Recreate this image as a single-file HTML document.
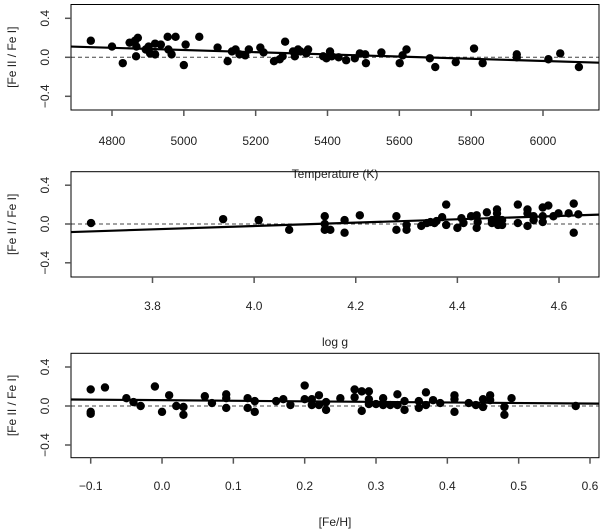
<!DOCTYPE html>
<html><head><meta charset="utf-8"><style>
body{margin:0;background:#fff;}
svg{display:block;font-family:"Liberation Sans",Arial,sans-serif;}
</style></head><body>
<svg id="c" width="600" height="532" xmlns="http://www.w3.org/2000/svg"></svg>
<script>
// Panel 1: Temperature
const tempX=[4741,4800,4830,4849,4864,4868,4872,4867,4894,4902,4906,4920,4920,4936,4955,4957,4966,4977,5005,5000,5043,5094,5122,5134,5144,5155,5171,5181,5213,5222,5251,5267,5275,5282,5304,5309,5318,5325,5341,5346,5388,5397,5407,5412,5431,5452,5476,5490,5505,5507,5550,5601,5609,5620,5685,5700,5757,5808,5832,5927,5927,6015,6048,6100];
const tempY=[0.17,0.11,-0.06,0.15,0.17,0.11,0.20,0.01,0.08,0.11,0.04,0.14,0.03,0.13,0.21,0.08,0.03,0.21,0.13,-0.08,0.21,0.10,-0.04,0.06,0.08,0.03,0.02,0.08,0.10,0.05,-0.04,-0.02,0.01,0.16,0.06,0.01,0.08,0.06,0.04,0.08,0.01,-0.01,0.06,0.01,0.00,-0.03,-0.01,0.04,0.03,-0.06,0.05,-0.06,0.02,0.08,-0.01,-0.10,-0.05,0.09,-0.06,0.03,0.00,-0.02,0.04,-0.10];
const tempFit=[0.11,-0.055]; // fit values at x-range ends
const tempTicks=[4800,5000,5200,5400,5600,5800,6000];
// Panel 2: log g
const loggX=[3.679,3.939,4.009,4.069,4.139,4.139,4.139,4.150,4.178,4.178,4.208,4.28,4.28,4.30,4.30,4.329,4.34,4.347,4.355,4.359,4.37,4.378,4.378,4.40,4.408,4.412,4.427,4.438,4.438,4.44,4.458,4.468,4.468,4.478,4.478,4.478,4.478,4.48,4.488,4.488,4.519,4.519,4.538,4.538,4.538,4.55,4.55,4.568,4.568,4.568,4.579,4.589,4.599,4.619,4.629,4.629,4.638];
const loggY=[0.01,0.05,0.04,-0.06,0.08,0.0,-0.06,-0.06,0.04,-0.09,0.09,0.08,-0.06,-0.01,-0.06,-0.02,0.01,0.02,0.01,0.03,0.07,0.20,-0.01,-0.04,0.06,0.01,0.08,0.09,-0.04,0.02,0.12,0.04,0.01,0.15,0.11,0.06,0.01,-0.01,0.04,-0.01,0.20,0.01,0.15,0.11,-0.02,0.08,0.04,0.17,0.08,0.02,0.19,0.08,0.11,0.11,0.21,-0.09,0.10];
const loggFit=[-0.083,0.097];
const loggTicks=["3.8","4.0","4.2","4.4","4.6"];
// Panel 3: [Fe/H]
const fehX=[-0.1,-0.1,-0.1,-0.08,-0.05,-0.04,-0.03,-0.01,0.0,0.01,0.02,0.03,0.03,0.06,0.07,0.09,0.09,0.09,0.12,0.12,0.13,0.13,0.16,0.17,0.18,0.20,0.20,0.21,0.21,0.22,0.22,0.23,0.23,0.25,0.27,0.27,0.28,0.28,0.29,0.29,0.29,0.30,0.31,0.31,0.32,0.33,0.33,0.34,0.34,0.36,0.36,0.37,0.37,0.38,0.39,0.41,0.41,0.41,0.43,0.44,0.45,0.45,0.46,0.46,0.48,0.48,0.49,0.58];
const fehY=[0.17,-0.06,-0.08,0.19,0.08,0.04,0.0,0.20,-0.06,0.11,0.0,-0.01,-0.09,0.10,0.03,0.12,0.08,-0.02,0.08,-0.02,0.05,-0.06,0.05,0.07,0.01,0.21,0.07,0.07,0.01,0.11,0.01,0.04,-0.04,0.08,0.17,0.09,0.15,-0.05,0.15,0.07,0.02,0.02,0.08,0.01,0.01,0.12,0.01,0.05,-0.04,0.05,-0.02,0.14,0.01,0.06,0.03,0.11,0.07,-0.06,0.03,0.01,0.07,-0.01,0.11,0.06,-0.01,-0.09,0.08,0.0];
const fehFit=[0.067,0.024];
const fehTicks=["−0.1","0.0","0.1","0.2","0.3","0.4","0.5","0.6"];
const yTicks=["−0.4","0.0","0.4"];
const yTickVals=[-0.4,0,0.4];

const NS="http://www.w3.org/2000/svg";
const svg=document.getElementById('c');
function mk(tag,attrs,parent){const e=document.createElementNS(NS,tag);for(const k in attrs)e.setAttribute(k,attrs[k]);(parent||svg).appendChild(e);return e;}

const L=71,R=599;
const panels=[
 {name:'temperature',top:4.5,bot:110,y0:57.3,yPer:39,xa:4800,xpa:112,xb:6000,xpb:543,xs:tempX,ys:tempY,fit:tempFit,ticks:tempTicks,tv:tempTicks.map(Number),tickY:145,title:'Temperature (K)',titleY:178},
 {name:'logg',top:171.7,bot:277,y0:224,yPer:38.8,xa:3.8,xpa:152.5,xb:4.6,xpb:559,xs:loggX,ys:loggY,fit:loggFit,ticks:loggTicks,tv:loggTicks.map(Number),tickY:310,title:'log g',titleY:346},
 {name:'feh',top:353.3,bot:457.7,y0:406,yPer:39,xa:-0.1,xpa:90.7,xb:0.6,xpb:590,xs:fehX,ys:fehY,fit:fehFit,ticks:fehTicks,tv:[-0.1,0,0.1,0.2,0.3,0.4,0.5,0.6],tickY:490,title:'[Fe/H]',titleY:526}
];
panels.forEach(p=>{
 const g=mk('g',{});
 
 
 const sx=v=>p.xpa+(v-p.xa)*(p.xpb-p.xpa)/(p.xb-p.xa);
 const sy=v=>p.y0-v*p.yPer/0.4;
 const z=mk('line',{x1:L,x2:R,y1:sy(0),y2:sy(0),stroke:'#444','stroke-width':1,'stroke-dasharray':'4,3'},g);
 
 
 p.xs.forEach((x,i)=>{
  const c=mk('circle',{cx:sx(x),cy:sy(p.ys[i]),r:4.2,fill:'#000'},g);
  
  
 });
 const f=mk('line',{x1:L,y1:sy(p.fit[0]),x2:R,y2:sy(p.fit[1]),stroke:'#000','stroke-width':2.2},g);
 
 
 const b=mk('rect',{x:L,y:p.top,width:R-L,height:p.bot-p.top,fill:'none',stroke:'#000','stroke-width':1},g);
 
 
 p.tv.forEach((v,i)=>{
  const x=sx(v);
  mk('line',{x1:x,x2:x,y1:p.bot,y2:p.bot+6,stroke:'#555','stroke-width':1.5},g);
  const t=mk('text',{x:x,y:p.tickY,'text-anchor':'middle','font-size':12,fill:'#222'},g);
  t.textContent=p.ticks[i];
  
  
 });
 yTickVals.forEach((v,i)=>{
  const y=sy(v);
  mk('line',{x1:L-6,x2:L,y1:y,y2:y,stroke:'#555','stroke-width':1.5},g);
  const t=mk('text',{x:0,y:0,'text-anchor':'middle','font-size':12,fill:'#222',transform:`translate(49,${y}) rotate(-90)`},g);
  t.textContent=yTicks[i];
  
  
 });
 const yt=mk('text',{x:0,y:0,'text-anchor':'middle','font-size':12,fill:'#222',transform:`translate(16,${(p.top+p.bot)/2}) rotate(-90)`},g);
 yt.textContent='[Fe II / Fe I]';
 
 
 const xt=mk('text',{x:(L+R)/2,y:p.titleY,'text-anchor':'middle','font-size':12,fill:'#222'},g);
 xt.textContent=p.title;
 
 
});
</script>
</body></html>
